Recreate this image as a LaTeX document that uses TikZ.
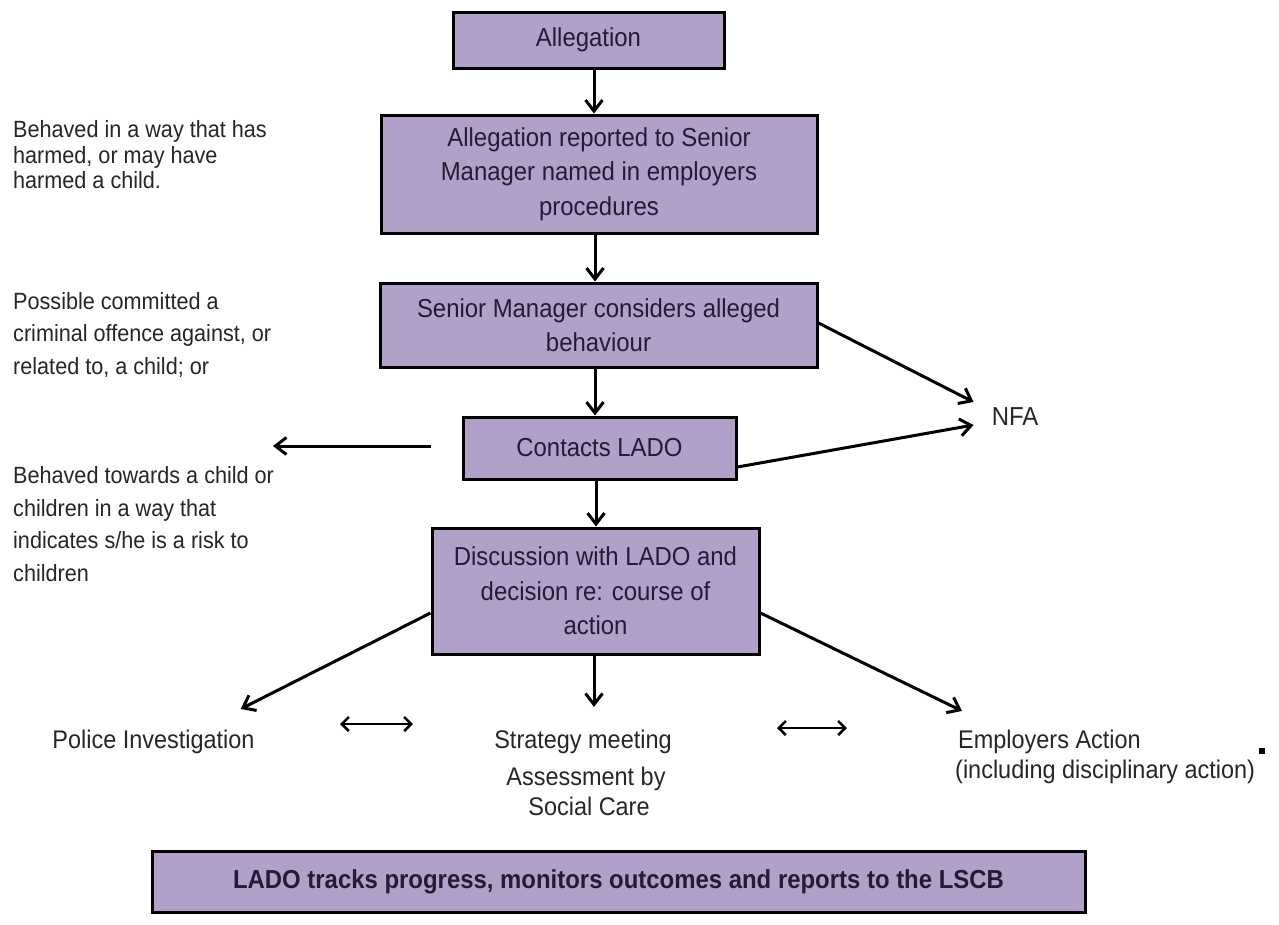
\documentclass[tikz,border=0pt]{standalone}
\usepackage{fontspec}
\setmainfont[FakeStretch=0.92]{Liberation Sans}
\usetikzlibrary{arrows.meta,calc}
\definecolor{boxfill}{RGB}{177,160,199}
\definecolor{boxtext}{RGB}{35,28,52}
\definecolor{plaintext}{RGB}{38,38,38}
\begin{document}
\begin{tikzpicture}[x=1pt,y=-1pt,
  box/.style={draw=black, line width=3pt, fill=boxfill, text=boxtext,
    font=\fontsize{26}{34.5}\selectfont, align=center, inner sep=0pt},
  sidetext/.style={text=plaintext, align=left, inner sep=0pt, anchor=west},
  label/.style={text=plaintext, inner sep=0pt, font=\fontsize{25.5}{30}\selectfont},
  arr/.style={draw=black, line width=3pt, -{Straight Barb[length=11pt,width=17pt]}},
  dbl/.style={draw=black, line width=2.6pt, {Straight Barb[length=7pt,width=14pt]}-{Straight Barb[length=7pt,width=14pt]}}
]
\fill[white] (0,0) rectangle (1279,924);
\useasboundingbox (0,0) rectangle (1279,924);

% main boxes
\node[box, minimum width=271pt, minimum height=56pt] (alleg) at (588.5,40) {Allegation};
\node[box, minimum width=436pt, minimum height=118pt] (report) at (599,174)
  {Allegation reported to Senior\\Manager named in employers\\procedures};
\node[box, minimum width=437pt, minimum height=84pt] (consider) at (598.5,325)
  {Senior Manager considers alleged\\behaviour};
\node[box, minimum width=273pt, minimum height=62pt] (contacts) at (599.5,448) {Contacts LADO};
\node[box, minimum width=327pt, minimum height=126pt] (discuss) at (595.5,591)
  {Discussion with LADO and\\decision re: course of\\action};
\node[box, minimum width=933pt, minimum height=61pt, font=\fontsize{26}{30}\selectfont\bfseries] (tracks) at (618.5,881.5)
  {LADO tracks progress, monitors outcomes and reports to the LSCB};

% side texts
\node[sidetext, font=\fontsize{23.5}{25.5}\selectfont] (harm) at (13,155)
  {Behaved in a way that has\\harmed, or may have\\harmed a child.};
\node[sidetext, font=\fontsize{23.5}{32.5}\selectfont] (crime) at (13,334.5)
  {Possible committed a\\criminal offence against, or\\related to, a child; or};
\node[sidetext, font=\fontsize{23.5}{32.6}\selectfont] (risk) at (13,524)
  {Behaved towards a child or\\children in a way that\\indicates s/he is a risk to\\children};

% outcome labels
\node[label, font=\fontsize{26}{30}\selectfont] (nfa) at (1015,417) {NFA};
\node[label] (police) at (153.5,742) {Police Investigation};
\node[label] (strat) at (583,742) {Strategy meeting};
\node[label, align=center] (assess) at (586,791) {Assessment by\\\hspace{6pt}Social Care};
\node[label, align=left, anchor=west] (employ) at (955,757)
  {\hspace{3pt}Employers Action\\(including disciplinary action)};

% coordinates for free ends
\coordinate (leftend) at (273,446);
\coordinate (pl) at (340,724);
\coordinate (pr) at (413,724);
\coordinate (el) at (777,728);
\coordinate (er) at (847,728);

% vertical arrows
\draw[arr] ([xshift=5.5pt]alleg.south) -- ([xshift=5.5pt]alleg.south |- report.north);
\draw[arr] ([xshift=-4pt]report.south) -- ([xshift=-4pt]report.south |- consider.north);
\draw[arr] ([xshift=-3.5pt]consider.south) -- ([xshift=-3.5pt]consider.south |- contacts.north);
\draw[arr] ([xshift=-3.5pt]contacts.south) -- ([xshift=-3.5pt]contacts.south |- discuss.north);
\draw[arr] ([xshift=-1.5pt]discuss.south) -- ([xshift=-1.5pt,yshift=23pt]discuss.south |- strat.north);

% NFA arrows
\draw[arr] ([yshift=2pt]consider.east) -- ($(nfa.west)+(-18,-15)$);
\draw[arr] ([yshift=-19pt]contacts.east) -- ($(nfa.west)+(-18,8)$);

% left arrow
\draw[arr] ([xshift=-31pt,yshift=2pt]contacts.west) -- (leftend);

% diagonal arrows
\draw[arr] ([yshift=-22pt]discuss.west) -- ($(police.north east)+(-14,-21)$);
\draw[arr] ([yshift=-22pt]discuss.east) -- ($(employ.north west)+(7,-19)$);

% double arrows
\draw[dbl] (pl) -- (pr);
\draw[dbl] (el) -- (er);

% small mark
\fill[black] (1259,748) rectangle (1265,754);
\end{tikzpicture}
\end{document}
